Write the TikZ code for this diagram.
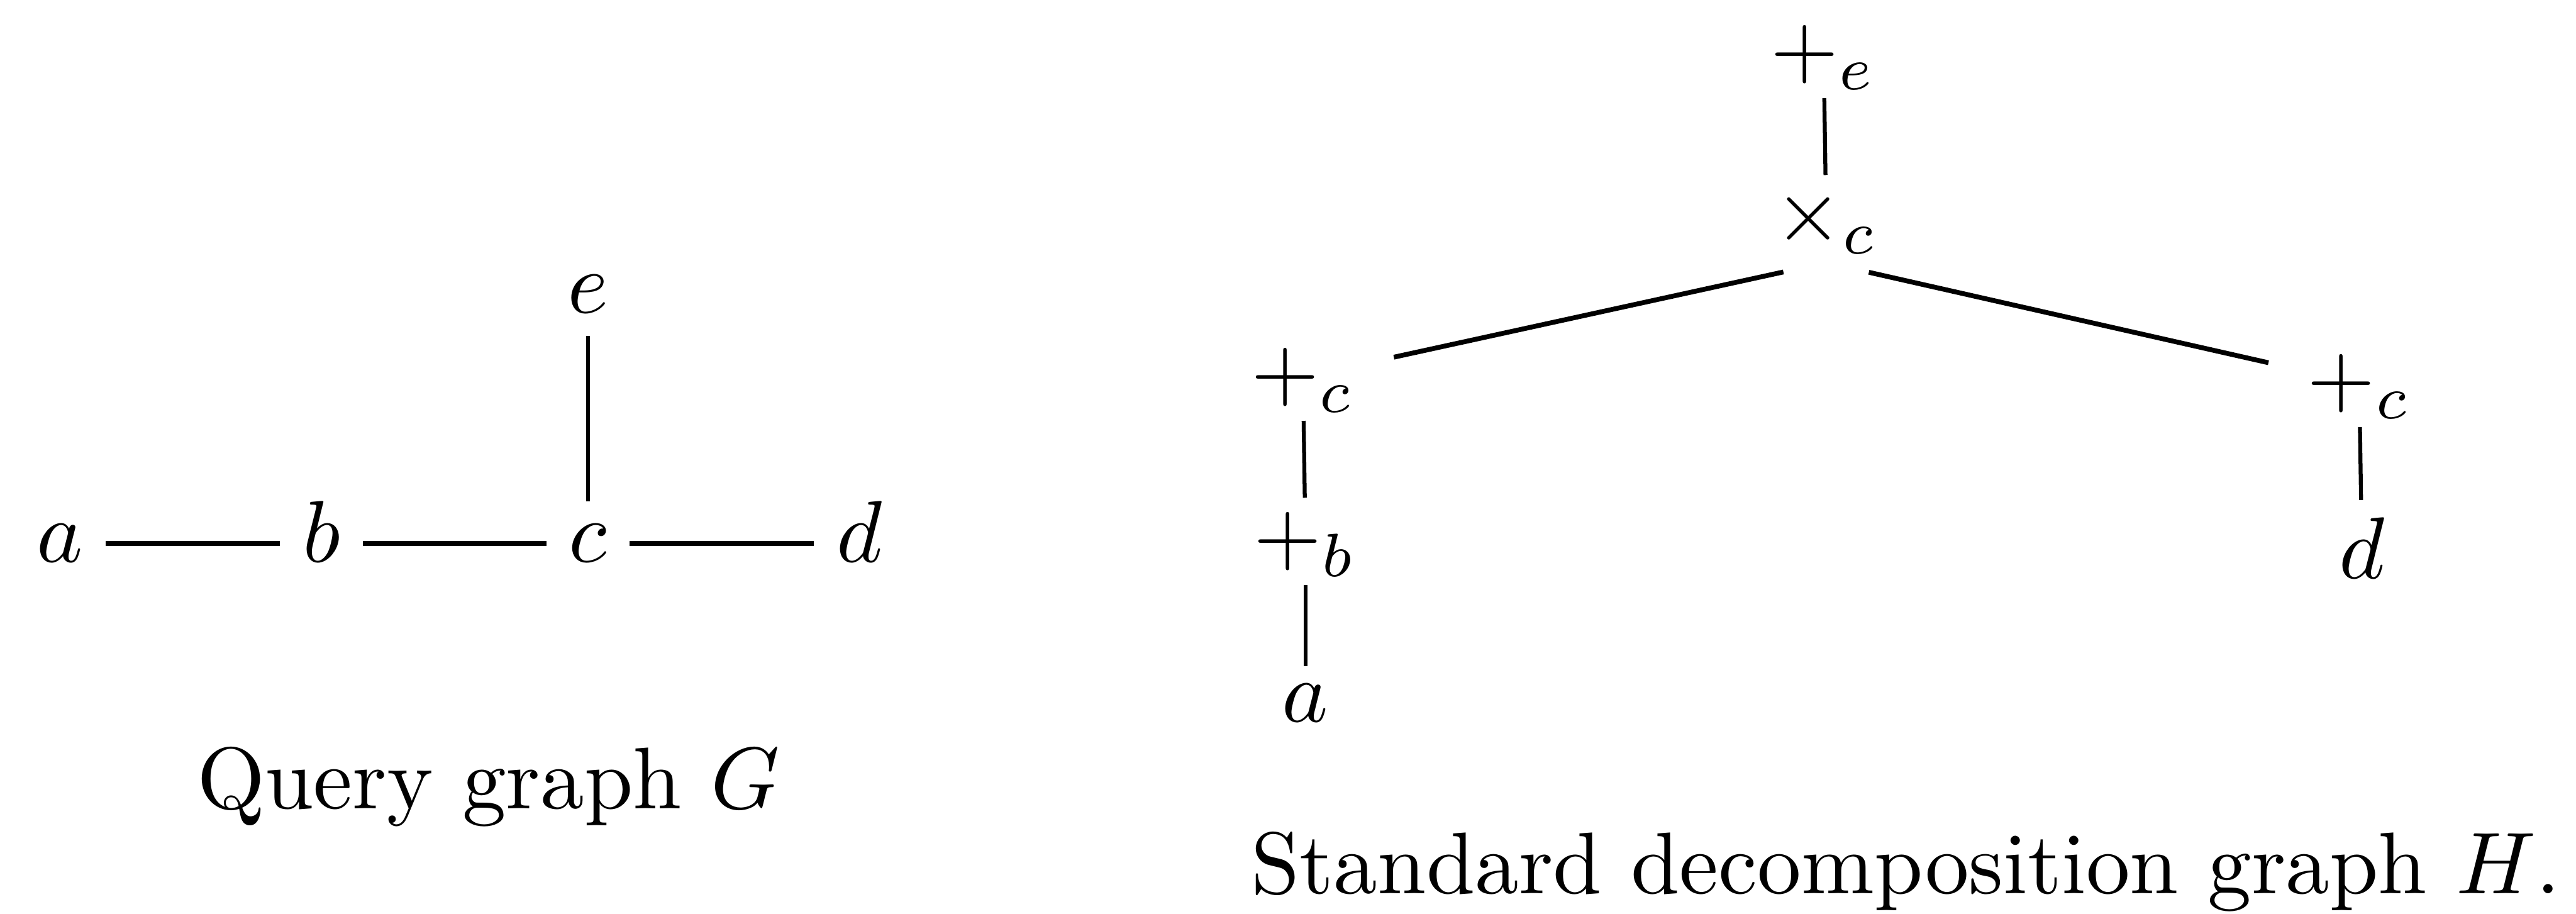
\documentclass[tikz,border=0pt]{standalone}
\begin{document}
\begin{tikzpicture}[
  qv/.style={anchor=base, inner sep=2.4pt, text height=1ex, text depth=0pt},
  op/.style={anchor=base, inner sep=2.3pt, text height=5pt, text depth=0pt},
  leaf/.style={anchor=base, inner sep=1.8pt},
  hedge/.style={line width=0.6pt},
  vedge/.style={line width=0.45pt},
  dedge/.style={line width=0.55pt, shorten <=5pt, shorten >=2pt}]
  \useasboundingbox (0,0) rectangle (10.34,3.666);
  % query graph
  \foreach \n/\x in {a/0.24, b/1.29, c/2.36, d/3.45}
    \node[qv] (\n) at (\x,1.41) {$\n$};
  \node[qv] (e) at (2.36,2.41) {$e$};
  \foreach \u/\v in {a/b, b/c, c/d}
    \draw[hedge] (\u) -- (\v);
  \draw[vedge] (e) -- (c);
  \node[anchor=base] (capG) at (1.96,0.42) {Query graph $G$};
  % decomposition graph
  \node[op] (pe) at (7.32,3.36) {$+_e$};
  \node[op] (xc) at (7.33,2.70) {$\times_c$};
  \node[op] (pcl) at (5.23,2.065) {$+_c$};
  \node[op] (pb) at (5.24,1.405) {$+_b$};
  \node[leaf] (la) at (5.24,0.77) {$a$};
  \node[op] (pcr) at (9.47,2.04) {$+_c$};
  \node[leaf] (ld) at (9.48,1.345) {$d$};
  \foreach \u/\v in {pe/xc, pcl/pb, pb/la, pcr/ld}
    \draw[vedge] (\u) -- (\v);
  \draw[dedge] (xc.south) -- (pcl);
  \draw[dedge] (xc.south) -- (pcr);
  \node[anchor=base] (capH) at (7.65,0.08) {Standard decomposition graph $H$.};
\end{tikzpicture}
\end{document}
